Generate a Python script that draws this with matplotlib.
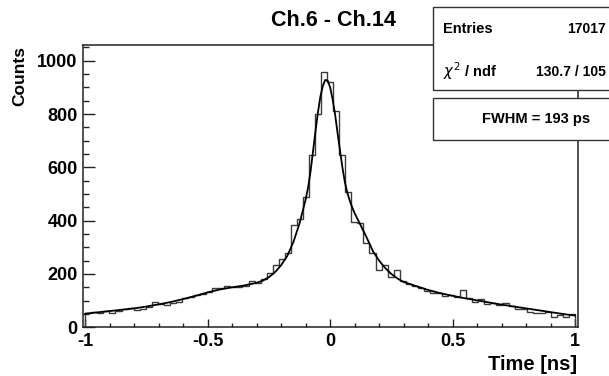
import numpy as np
import matplotlib
matplotlib.use("Agg")
import matplotlib.pyplot as plt
from matplotlib.patches import Rectangle
from matplotlib.ticker import FixedLocator, MultipleLocator

plt.rcParams['font.family'] = ['Liberation Sans', 'DejaVu Sans']
plt.rcParams['axes.unicode_minus'] = False

# ---- data ----
bin_lo, bin_hi, n_bins = -1.0, 1.0, 81
counts = [52, 59, 52, 62, 53, 62, 67, 71, 65, 70,
          77, 96, 87, 84, 92, 96, 109, 115, 121, 125,
          132, 146, 146, 155, 152, 152, 155, 174, 165, 180,
          202, 234, 256, 277, 384, 405, 490, 646, 802, 958,
          922, 810, 646, 509, 395, 390, 315, 277, 215, 235,
          187, 215, 175, 162, 155, 148, 137, 130, 127, 117,
          120, 115, 140, 109, 96, 105, 87, 90, 84, 92,
          80, 70, 67, 59, 55, 55, 59, 40, 46, 40, 50]

fit_t = [-1.0, -0.95, -0.9, -0.85, -0.8, -0.75, -0.7, -0.65, -0.6, -0.55,
         -0.5, -0.45, -0.4, -0.35, -0.3, -0.275, -0.25, -0.225, -0.2, -0.175,
         -0.15, -0.125, -0.1, -0.09, -0.08, -0.07, -0.06, -0.05, -0.04, -0.03,
         -0.02, -0.01, 0.0, 0.01, 0.02, 0.03, 0.04, 0.05, 0.06, 0.07,
         0.08, 0.09, 0.1, 0.125, 0.15, 0.175, 0.2, 0.225, 0.25, 0.275,
         0.3, 0.35, 0.4, 0.45, 0.5, 0.55, 0.6, 0.65, 0.7, 0.75,
         0.8, 0.85, 0.9, 0.95, 1.0]
fit_y = [51, 56, 61, 66, 71, 78, 86, 95, 106, 118,
         131, 142, 150, 157, 167, 175, 188, 207, 233, 268,
         320, 390, 480, 525, 585, 660, 735, 805, 865, 905,
         928, 925, 900, 855, 800, 730, 665, 600, 545, 505,
         475, 450, 428, 382, 335, 285, 250, 222, 200, 183,
         170, 155, 140, 128, 118, 109, 101, 93, 85, 78,
         71, 64, 57, 50, 44]

x_ticks = [-1, -0.5, 0, 0.5, 1]
x_tick_labels = ["-1", "-0.5", "0", "0.5", "1"]
y_ticks = [0, 200, 400, 600, 800, 1000]
y_tick_labels = ["0", "200", "400", "600", "800", "1000"]

title = "Ch.6 - Ch.14"
xlabel = "Time [ns]"
ylabel = "Counts"
entries = "17017"
chi2 = "130.7 / 105"
fwhm_text = "FWHM = 193 ps"

# ---- figure ----
W, H = 609, 376
fig = plt.figure(figsize=(W / 100, H / 100), dpi=100)
fig.patch.set_facecolor('white')

def fx(px):
    return px / W

def fy(py):
    return 1 - py / H

ax_l, ax_r, ax_t, ax_b = 83.3, 577.5, 45.0, 327.3
ax = fig.add_axes([fx(ax_l), fy(ax_b), fx(ax_r - ax_l), (ax_b - ax_t) / H])

edges = np.linspace(bin_lo, bin_hi, n_bins + 1)
ax.stairs(counts, edges, baseline=0, color='#3a3a3a', lw=1.0, zorder=2)
ax.plot(fit_t, fit_y, color='black', lw=1.3, zorder=3)

ax.set_xlim(-1.008, 1.01)
ax.set_ylim(0, 1059)

ax.xaxis.set_major_locator(FixedLocator(x_ticks))
ax.set_xticklabels(x_tick_labels)
ax.xaxis.set_minor_locator(MultipleLocator(0.1))
ax.yaxis.set_major_locator(FixedLocator(y_ticks))
ax.set_yticklabels(y_tick_labels)
ax.yaxis.set_minor_locator(MultipleLocator(50))

ax.tick_params(axis='x', which='major', direction='in', length=6, width=1.0,
               labelsize=13, pad=4, colors='#222222', labelcolor='black')
ax.tick_params(axis='x', which='minor', direction='in', length=3, width=1.0,
               colors='#222222')
ax.tick_params(axis='y', which='major', direction='in', length=8.5, width=1.0,
               labelsize=13, pad=4, colors='#222222', labelcolor='black')
ax.tick_params(axis='y', which='minor', direction='in', length=4.3, width=1.0,
               colors='#222222')
for lab in ax.get_xticklabels() + ax.get_yticklabels():
    lab.set_fontweight('bold')
for sp in ax.spines.values():
    sp.set_linewidth(1.1)
    sp.set_color('#222222')

# titles
fig.text(fx(333), fy(20), title, ha='center', va='center',
         fontsize=15.5, fontweight='bold')
fig.text(fx(577), fy(365), xlabel, ha='right', va='center',
         fontsize=14.5, fontweight='bold')
fig.text(fx(20), fy(46), ylabel, ha='center', va='top', rotation=90,
         fontsize=12.5, fontweight='bold')

# stats box
fig.add_artist(Rectangle((fx(433), fy(90)), fx(660 - 433), (90 - 7) / H,
                         transform=fig.transFigure, facecolor='white',
                         edgecolor='#333333', lw=1.0, zorder=5))
fig.text(fx(443), fy(29), "Entries", ha='left', va='center',
         fontsize=10.5, fontweight='bold', zorder=6)
fig.text(fx(606), fy(29), entries, ha='right', va='center',
         fontsize=10, fontweight='bold', zorder=6)
fig.text(fx(443), fy(71), r"$\chi^{2}$ / ndf", ha='left', va='center',
         fontsize=10.5, fontweight='bold', zorder=6)
fig.text(fx(606), fy(72), chi2, ha='right', va='center',
         fontsize=10, fontweight='bold', zorder=6)

# FWHM box
fig.add_artist(Rectangle((fx(433), fy(140)), fx(660 - 433), (140 - 97.7) / H,
                         transform=fig.transFigure, facecolor='white',
                         edgecolor='#333333', lw=1.0, zorder=5))
fig.text(fx(536.5), fy(119), fwhm_text, ha='center', va='center',
         fontsize=10.5, fontweight='bold', zorder=6)

fig.savefig("out.png", dpi=100)
